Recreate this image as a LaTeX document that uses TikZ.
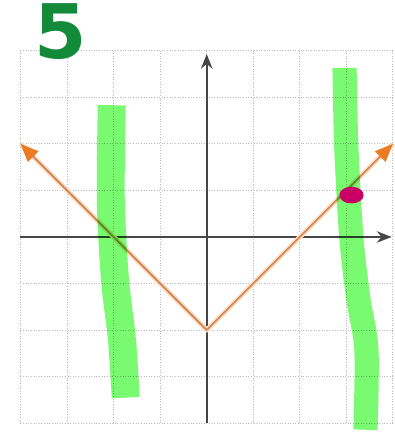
\documentclass[tikz,border=0pt]{standalone}
\usepackage{fontspec}
\newfontfamily\handfont{DejaVu Sans}
\usetikzlibrary{arrows.meta}

\definecolor{gridgray}{RGB}{185,185,185}
\definecolor{axisgray}{RGB}{70,70,70}
\definecolor{vorange}{RGB}{212,132,74}
\definecolor{tiporange}{RGB}{236,124,36}
\definecolor{hlgreen}{RGB}{122,250,112}
\definecolor{penmagenta}{RGB}{200,0,102}
\definecolor{pengreen}{RGB}{18,138,58}

\begin{document}
\begin{tikzpicture}[>=Stealth,
    gridline/.style={gridgray, densely dotted, line width=0.6pt},
    axisline/.style={axisgray, line width=1.2pt, -{Stealth[length=9pt, width=7pt]}},
    halo/.style={tiporange!25, line width=3pt, line join=round},
    vline/.style={vorange, line width=1pt, line join=round},
    highlight/.style={hlgreen, line cap=butt, line join=round, blend mode=multiply}]

\useasboundingbox (-4.44,-4.21) rectangle (4.03,5.09);

% Grid
\draw[gridline] (-4,-4) grid (4,4);

% Axes
\coordinate (xl) at (-4,0);
\coordinate (xr) at (3.97,0);
\coordinate (yb) at (0,-4);
\coordinate (yt) at (0,3.93);
\draw[axisline] (xl) -- (xr);
\draw[axisline] (yb) -- (yt);

% Graph of y = |x| - 2
\coordinate (vl) at (-4,2);
\coordinate (vtx) at (0,-2);
\coordinate (vr) at (4,2);
\draw[halo] (vl) -- (vtx) -- (vr);
\draw[vline, {Triangle[length=11pt, width=9pt, color=tiporange]}-{Triangle[length=11pt, width=9pt, color=tiporange]}] (vl) -- (vtx) -- (vr);

% Highlighter strokes
\draw[highlight, line width=0.6cm] plot[smooth] coordinates
    {(-2.04,2.83) (-2.06,0.79) (-1.97,-0.92) (-1.82,-2.21) (-1.74,-3.45)};
\draw[highlight, line width=0.52cm] plot[smooth] coordinates
    {(2.96,3.63) (3.0,1.87) (3.11,-0.06) (3.26,-1.35) (3.43,-2.42) (3.41,-4.14)};

% Marked point
\fill[penmagenta] (3.11,0.9) ellipse (0.26cm and 0.18cm);

% Handwritten label
\node[pengreen, inner sep=0pt] (num) at (-3.13,4.42) {\handfont\bfseries\fontsize{46}{46}\selectfont 5};

\end{tikzpicture}
\end{document}
